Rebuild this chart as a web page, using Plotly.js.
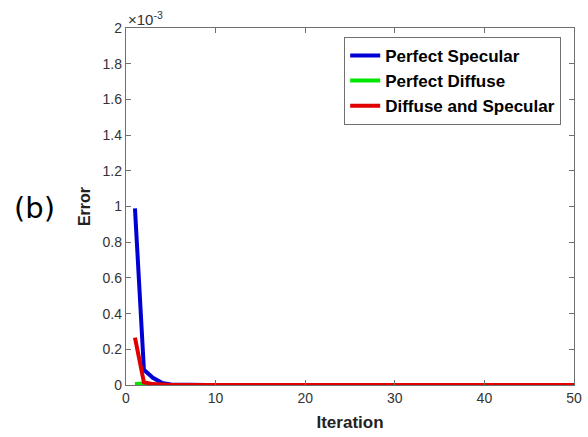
<!DOCTYPE html>
<html><head><meta charset="utf-8">
<script src="https://cdn.plot.ly/plotly-3.0.1.min.js"></script>
<style>body{margin:0;background:#fff}</style>
</head><body>
<div id="plot" style="width:588px;height:437px"></div>
<script>
// Iterations and errors (real units)
const iterations = Array.from({length: 50}, (_, i) => i + 1);
const specularHead = [0.99e-3, 0.085e-3, 0.04e-3, 0.012e-3, 0.003e-3, 0.001e-3];
const diffuseHead = [0.005e-3, 0.008e-3, 0.001e-3];
const mixedHead = [0.265e-3, 0.015e-3, 0.005e-3, 0.001e-3];
function pad(head) { return iterations.map((_, i) => i < head.length ? head[i] : 0); }
const perfectSpecular = pad(specularHead);
const perfectDiffuse = pad(diffuseHead);
const diffuseAndSpecular = pad(mixedHead);
const seriesNames = ["Perfect Specular", "Perfect Diffuse", "Diffuse and Specular"];
const yTickVals = [0, 0.2e-3, 0.4e-3, 0.6e-3, 0.8e-3, 1e-3, 1.2e-3, 1.4e-3, 1.6e-3, 1.8e-3, 2e-3];
const yTickText = ["0", "0.2", "0.4", "0.6", "0.8", "1", "1.2", "1.4", "1.6", "1.8", "2"];
const xTickVals = [0, 10, 20, 30, 40, 50];

const FONT = "Liberation Sans, Arial, sans-serif";
const colors = ["#0000d4", "#00e600", "#e00000"];
const data = [perfectSpecular, perfectDiffuse, diffuseAndSpecular].map((y, k) => ({
  x: iterations, y: y, type: "scatter", mode: "lines", name: seriesNames[k],
  line: {color: colors[k], width: 4}
}));

const axisCommon = {
  showline: true, linecolor: "#707070", linewidth: 1.2, mirror: "ticks",
  ticks: "inside", ticklen: 5, tickcolor: "#707070", showgrid: false, zeroline: false,
  tickfont: {family: FONT, size: 14, color: "#333"}
};
const layout = {
  width: 588, height: 437,
  margin: {l: 126, r: 14, t: 28, b: 52},
  paper_bgcolor: "#fff", plot_bgcolor: "#fff",
  showlegend: true,
  legend: {x: 0.487, y: 0.975, xanchor: "left", yanchor: "top",
    bgcolor: "#fff", bordercolor: "#707070", borderwidth: 1,
    font: {family: FONT, size: 17, color: "#000", weight: "bold"},
    tracegroupgap: 0, itemwidth: 30},
  xaxis: Object.assign({}, axisCommon, {range: [0, 50], tickvals: xTickVals,
    title: {text: "Iteration", standoff: 11, font: {family: FONT, size: 17, color: "#222", weight: "bold"}}}),
  yaxis: Object.assign({}, axisCommon, {range: [0, 2e-3], tickvals: yTickVals, ticktext: yTickText,
    title: {text: "Error", standoff: 8, font: {family: FONT, size: 16, color: "#222", weight: "bold"}}}),
  annotations: [
    {xref: "paper", yref: "paper", x: 0, y: 1, xanchor: "left", yanchor: "bottom", yshift: -2,
     text: "×10<sup>-3</sup>", showarrow: false, font: {family: FONT, size: 15, color: "#333"}},
    {xref: "paper", yref: "paper", x: -0.205, y: 0.495, xanchor: "center", yanchor: "middle",
     text: "(b)", showarrow: false, font: {family: "DejaVu Sans, sans-serif", size: 29, color: "#000"}}
  ]
};
Plotly.newPlot("plot", data, layout, {displayModeBar: false, staticPlot: true});
</script>
</body></html>
